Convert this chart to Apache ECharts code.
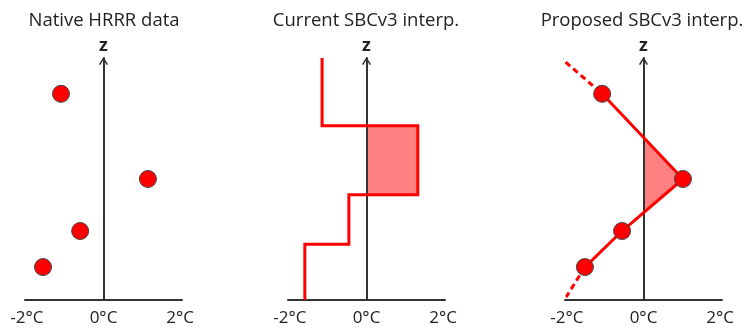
<!DOCTYPE html>
<html>
<head>
<meta charset="utf-8">
<script src="https://cdn.jsdelivr.net/npm/echarts@6/dist/echarts.min.js"></script>
<style>
  html, body { margin: 0; padding: 0; background: #ffffff; }
  #chart { width: 749px; height: 331px; }
</style>
</head>
<body>
<div id="chart"></div>
<script>
// Panel headings and temperature ticks (°C)
const panelTitles = ['Native HRRR data', 'Current SBCv3 interp.', 'Proposed SBCv3 interp.'];
const tempTicks = [-2, 0, 2];

// Native model levels: temperature (°C) and height (arbitrary z units, 0..10)
const nativeTemp = [-1.11, 1.16, -0.61, -1.58];
const levelZ = [8.52, 5.0, 2.85, 1.36];

// Current scheme: one constant temperature per layer, layer tops in z
const stepTemp = [-1.16, 1.34, -0.46, -1.61];
const stepTop = [10.0, 7.2, 4.35, 2.3];
const stepBase = 0;

// Proposed scheme: linear between levels, extrapolated above and below
const proposedTemp = [-1.08, 1.03, -0.56, -1.53];
const extrapTop = [-2.23, 10.1];
const extrapBottom = [-2.02, 0.12];

const RED = '#ff0000';
const FILL = '#ff8080';
const AXIS = '#333333';
const FONT = '"Open Sans", "DejaVu Sans", sans-serif';

const grids = [
  { left: 25, top: 58, width: 157, height: 242 },
  { left: 288, top: 58, width: 157, height: 242 },
  { left: 565, top: 58, width: 157, height: 242 }
];
const titleX = [104, 366, 642];

const xAxes = grids.map((g, i) => ({
  type: 'value', gridIndex: i, min: -2.05, max: 2.05,
  axisLine: { show: true, lineStyle: { color: AXIS, width: 2 } },
  axisTick: { show: false },
  splitLine: { show: false },
  axisLabel: {
    customValues: tempTicks,
    formatter: v => v + '°C',
    color: '#222', fontSize: 17, fontFamily: FONT, margin: 10
  }
}));

const yAxes = grids.map((g, i) => ({
  type: 'value', gridIndex: i, min: 0, max: 10, z: 1,
  name: 'z', nameLocation: 'end', nameGap: 3,
  nameTextStyle: { color: '#222', fontSize: 18, fontFamily: FONT, fontWeight: 'bold' },
  axisLine: {
    show: true, onZero: true,
    lineStyle: { color: AXIS, width: 2 },
    symbol: ['none', 'path://M0,8 L5,0 L10,8 L8.4,8.8 L5,2.8 L1.6,8.8 Z'],
    symbolSize: [11, 8],
    symbolOffset: [0, -3]
  },
  axisTick: { show: false },
  axisLabel: { show: false },
  splitLine: { show: false }
}));

// Step profile outline built from layer temperatures and tops
const stepPath = [];
for (let i = 0; i < stepTemp.length; i++) {
  const bottom = i + 1 < stepTop.length ? stepTop[i + 1] : stepBase;
  stepPath.push([stepTemp[i], stepTop[i]]);
  stepPath.push([stepTemp[i], bottom]);
}

// Warm (above 0 °C) area of the step profile
const stepWarm = [];
for (let i = 0; i < stepTemp.length; i++) {
  if (stepTemp[i] > 0) {
    const bottom = i + 1 < stepTop.length ? stepTop[i + 1] : stepBase;
    stepWarm.push([[0, bottom], [stepTemp[i], bottom], [stepTemp[i], stepTop[i]], [0, stepTop[i]]]);
  }
}

// Warm area of the linear profile: where the segments cross 0 °C
const proposedPts = proposedTemp.map((t, i) => [t, levelZ[i]]);
const linearWarm = [];
(function () {
  let poly = null;
  for (let i = 0; i < proposedPts.length - 1; i++) {
    const a = proposedPts[i], b = proposedPts[i + 1];
    if ((a[0] <= 0) !== (b[0] <= 0)) {
      const f = (0 - a[0]) / (b[0] - a[0]);
      const cross = [0, a[1] + f * (b[1] - a[1])];
      if (!poly) { poly = [cross]; }
      else { poly.push(cross); linearWarm.push(poly); poly = null; }
    }
    if (poly && b[0] > 0) poly.push(b);
  }
})();

function warmSeries(gridIdx, polys) {
  return {
    type: 'custom', xAxisIndex: gridIdx, yAxisIndex: gridIdx, z: 0,
    data: polys.map((p, i) => [0, i]),
    renderItem: function (params, api) {
      const poly = polys[params.dataIndex];
      return {
        type: 'polygon',
        shape: { points: poly.map(p => api.coord(p)) },
        style: { fill: FILL, stroke: null }
      };
    }
  };
}

const markerStyle = { color: RED, borderColor: '#444', borderWidth: 1, opacity: 1 };

const option = {
  animation: false,
  backgroundColor: '#ffffff',
  grid: grids,
  xAxis: xAxes,
  yAxis: yAxes,
  graphic: panelTitles.map((t, i) => ({
    type: 'text', x: titleX[i], y: 21,
    style: {
      text: t, fill: '#222', font: '18.5px ' + FONT,
      align: 'center', verticalAlign: 'middle',
      textAlign: 'center', textVerticalAlign: 'middle'
    }
  })),
  series: [
    {
      type: 'scatter', xAxisIndex: 0, yAxisIndex: 0,
      symbolSize: 17, itemStyle: markerStyle,
      data: nativeTemp.map((t, i) => [t, levelZ[i]])
    },
    warmSeries(1, stepWarm),
    {
      type: 'line', xAxisIndex: 1, yAxisIndex: 1, clip: false,
      showSymbol: false, lineStyle: { color: RED, width: 3, join: 'miter' },
      data: stepPath
    },
    warmSeries(2, linearWarm),
    {
      type: 'line', xAxisIndex: 2, yAxisIndex: 2, clip: false,
      showSymbol: false, lineStyle: { color: RED, width: 3, type: [6, 4] },
      data: [extrapTop, proposedPts[0]]
    },
    {
      type: 'line', xAxisIndex: 2, yAxisIndex: 2, clip: false,
      showSymbol: false, lineStyle: { color: RED, width: 3, type: [6, 4] },
      data: [proposedPts[proposedPts.length - 1], extrapBottom]
    },
    {
      type: 'line', xAxisIndex: 2, yAxisIndex: 2, clip: false, z: 3,
      symbol: 'circle', symbolSize: 17, showSymbol: true,
      itemStyle: markerStyle,
      lineStyle: { color: RED, width: 3 },
      data: proposedPts
    }
  ]
};

const chart = echarts.init(document.getElementById('chart'), null, { renderer: 'canvas' });
chart.setOption(option);
</script>
</body>
</html>
